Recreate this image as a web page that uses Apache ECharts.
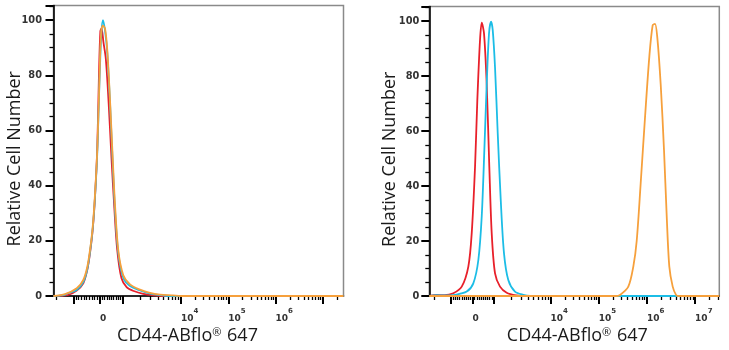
<!DOCTYPE html>
<html><head><meta charset="utf-8">
<script src="https://cdn.jsdelivr.net/npm/echarts@6/dist/echarts.min.js"></script>
<style>html,body{margin:0;padding:0;background:#fff}#c{width:729px;height:350px}</style>
</head><body><div id="c"></div>
<script>
// x values are in display (logicle-like) units: 10^4 -> 4, 10^5 -> 5, ...
const xRangeLeft = [1.304, 7.436];
const xRangeRight = [1.485, 7.502];
// major tick positions: -10^3, 0, 10^3, 10^4, 10^5, 10^6, 10^7
const majorLeft = [1.723, 2.288, 2.767, 4, 5, 6, 7];
const majorRight = [1.936, 2.382, 2.828, 4, 5, 6, 7];
const labelPosLeft = [2.288, 4, 5, 6];
const labelTextLeft = ['0', '4', '5', '6'];
const labelPosRight = [2.382, 4, 5, 6, 7];
const labelTextRight = ['0', '4', '5', '6', '7'];
const yTickLabels = [0, 20, 40, 60, 80, 100];
const yMax = 105.3;

const leftRed = [[1.304,0],[1.60,0.3],[1.795,2.0],[1.934,4.6],[2.019,9.5],[2.076,15.5],[2.133,24],[2.182,36],[2.230,54],[2.265,80],[2.295,96],[2.32,97],[2.36,92],[2.41,86],[2.47,70],[2.53,50],[2.59,32],[2.65,17],[2.74,6.5],[2.85,3.2],[3.0,1.8],[3.2,0.8],[3.45,0.2],[3.6,0],[7.436,0]];
const leftCyan = [[1.304,0],[1.52,0.3],[1.60,0.9],[1.795,2.2],[1.934,5],[2.019,9.8],[2.076,16],[2.133,24.5],[2.182,36],[2.230,52],[2.273,76],[2.315,95],[2.350,100],[2.395,96],[2.442,88],[2.499,70],[2.556,48],[2.605,31],[2.674,15.5],[2.780,6.5],[2.922,3.6],[3.133,2.0],[3.345,0.9],[3.556,0.3],[3.75,0],[7.436,0]];
const leftOrange = [[1.304,0],[1.548,0.7],[1.795,2.8],[1.934,5.8],[2.019,10.6],[2.076,16.7],[2.133,25],[2.182,37],[2.230,53],[2.273,77],[2.309,95],[2.345,98],[2.393,97],[2.442,89],[2.499,71],[2.556,50],[2.605,33],[2.674,16.5],[2.780,7.5],[2.922,4.2],[3.133,2.3],[3.345,1.1],[3.556,0.5],[3.831,0.2],[4.0,0],[7.436,0]];

const rightRed = [[1.485,0],[1.639,0.4],[1.80,0.3],[1.983,1.0],[2.158,3.4],[2.295,10.7],[2.365,22.8],[2.434,47],[2.481,71],[2.537,93],[2.573,99.4],[2.620,95.5],[2.676,77],[2.730,47],[2.780,22.8],[2.849,8.2],[2.952,3.4],[3.091,1.2],[3.299,0.2],[3.45,0],[7.502,0]];
const rightCyan = [[1.485,0],[1.639,0.3],[1.80,0.2],[2.019,0.4],[2.261,1.6],[2.398,4.6],[2.502,13],[2.573,29],[2.627,53],[2.676,77],[2.724,95.5],[2.766,99.8],[2.801,96.7],[2.849,83],[2.905,59],[2.967,35],[3.035,15.5],[3.124,5.8],[3.263,1.6],[3.436,0.4],[3.575,0],[7.502,0]];
const rightOrange = [[1.485,0],[5.35,0],[5.442,0.4],[5.614,3.4],[5.718,10.7],[5.788,20],[5.871,41],[5.961,65],[6.050,87],[6.120,98.5],[6.168,99],[6.216,94],[6.286,77],[6.355,53],[6.411,29],[6.465,10.7],[6.535,3.4],[6.604,0.4],[6.651,0],[7.502,0]];

const colors = {red:'#e8202a', cyan:'#1cbde6', orange:'#f6a03c'};

function minorTicks(major, range){
  const out = [];
  const neg1k = major[0], zero = major[1], pos1k = major[2];
  const d = 4 - pos1k;
  for (let k=2;k<=9;k++){ out.push(neg1k - Math.log10(k)*d); out.push(pos1k + Math.log10(k)*d); }
  for (let i=1;i<=9;i++){ out.push(neg1k + (zero-neg1k)*i/10); out.push(zero + (pos1k-zero)*i/10); }
  for (let n=4;n<=7;n++) for (let k=2;k<=9;k++) out.push(n + Math.log10(k));
  return out.filter(v => v > range[0] && v < range[1]);
}

const rich = {
  b:{fontFamily:'DejaVu Sans', fontWeight:'bold', fontSize:9, color:'#333', lineHeight:10, padding:[6,0,0,0]},
  s:{fontFamily:'DejaVu Sans', fontWeight:'bold', fontSize:7, color:'#333', lineHeight:7, padding:[0,0,9,0]}
};
function fmt(pos, txt){
  return function(v){
    let i = -1, best = 1e9;
    pos.forEach((p,j)=>{ const dd=Math.abs(p-v); if(dd<best){best=dd;i=j;} });
    const t = txt[i];
    return t === '0' ? '{b|0}{s| }' : '{b|10}{s|' + t + '}';
  };
}
const nameStyle = {fontFamily:'Open Sans', fontSize:18, color:'#1a1a1a'};

function xAxes(gridIndex, range, major, lp, lt, namePad){
  return [{
    type:'value', gridIndex, position:'bottom', min:range[0], max:range[1],
    name:'CD44-ABflo{r|®} 647', nameLocation:'middle', nameGap:31, nameMoveOverlap:false,
    nameTextStyle:Object.assign({}, nameStyle, {padding:namePad, rich:{r:{fontFamily:'Open Sans', fontSize:11, color:'#1a1a1a', verticalAlign:'top', lineHeight:10, padding:[0,1,8,0]}}}),
    axisLine:{show:true, lineStyle:{color:'#000', width:1.6}},
    axisTick:{show:true, customValues:major, length:8, lineStyle:{color:'#000', width:2}},
    axisLabel:{show:true, customValues:lp, formatter:fmt(lp, lt), rich, margin:15, align:'left'},
    splitLine:{show:false}
  },{
    type:'value', gridIndex, position:'bottom', min:range[0], max:range[1],
    axisLine:{show:false},
    axisTick:{show:true, customValues:minorTicks(major, range), length:4, lineStyle:{color:'#000', width:1.3}},
    axisLabel:{show:false}, splitLine:{show:false}
  }];
}
function yAxis(gridIndex, margin){
  return {
    type:'value', gridIndex, min:0, max:yMax, interval:20,
    name:'Relative Cell Number', nameLocation:'middle', nameGap:30, nameMoveOverlap:false,
    nameTextStyle:Object.assign({}, nameStyle, {padding:[0,16,0,0]}),
    axisLine:{show:true, lineStyle:{color:'#000', width:1.6}},
    axisTick:{show:true, length:8, lineStyle:{color:'#000', width:2}},
    minorTick:{show:true, splitNumber:4, length:4, lineStyle:{color:'#000', width:1.3}},
    axisLabel:{fontFamily:'DejaVu Sans', fontWeight:'bold', fontSize:9.8, color:'#333', margin, customValues:yTickLabels},
    splitLine:{show:false}, minorSplitLine:{show:false}
  };
}
function line(name, data, color, xi, yi){
  return {type:'line', name, data, xAxisIndex:xi, yAxisIndex:yi, showSymbol:false, smooth:0.3,
    lineStyle:{color, width:1.8}, itemStyle:{color}, z:3, animation:false};
}

const chart = echarts.init(document.getElementById('c'), null, {renderer:'canvas'});
chart.setOption({
  animation:false,
  grid:[
    {left:53.5, top:5.5, width:290, height:290.5, show:true, borderColor:'#8a8a8a', borderWidth:1.5, containLabel:false, outerBoundsMode:'none'},
    {left:429.3, top:6.5, width:290, height:289.5, show:true, borderColor:'#8a8a8a', borderWidth:1.5, containLabel:false, outerBoundsMode:'none'}
  ],
  xAxis:[].concat(
    xAxes(0, xRangeLeft, majorLeft, labelPosLeft, labelTextLeft, [0,22,0,0]),
    xAxes(1, xRangeRight, majorRight, labelPosRight, labelTextRight, [0,0,0,6])
  ),
  yAxis:[yAxis(0, 11.5), yAxis(1, 10)],
  series:[
    line('red', leftRed, colors.red, 0, 0),
    line('cyan', leftCyan, colors.cyan, 0, 0),
    line('orange', leftOrange, colors.orange, 0, 0),
    line('red', rightRed, colors.red, 2, 1),
    line('cyan', rightCyan, colors.cyan, 2, 1),
    line('orange', rightOrange, colors.orange, 2, 1)
  ]
});
</script></body></html>
